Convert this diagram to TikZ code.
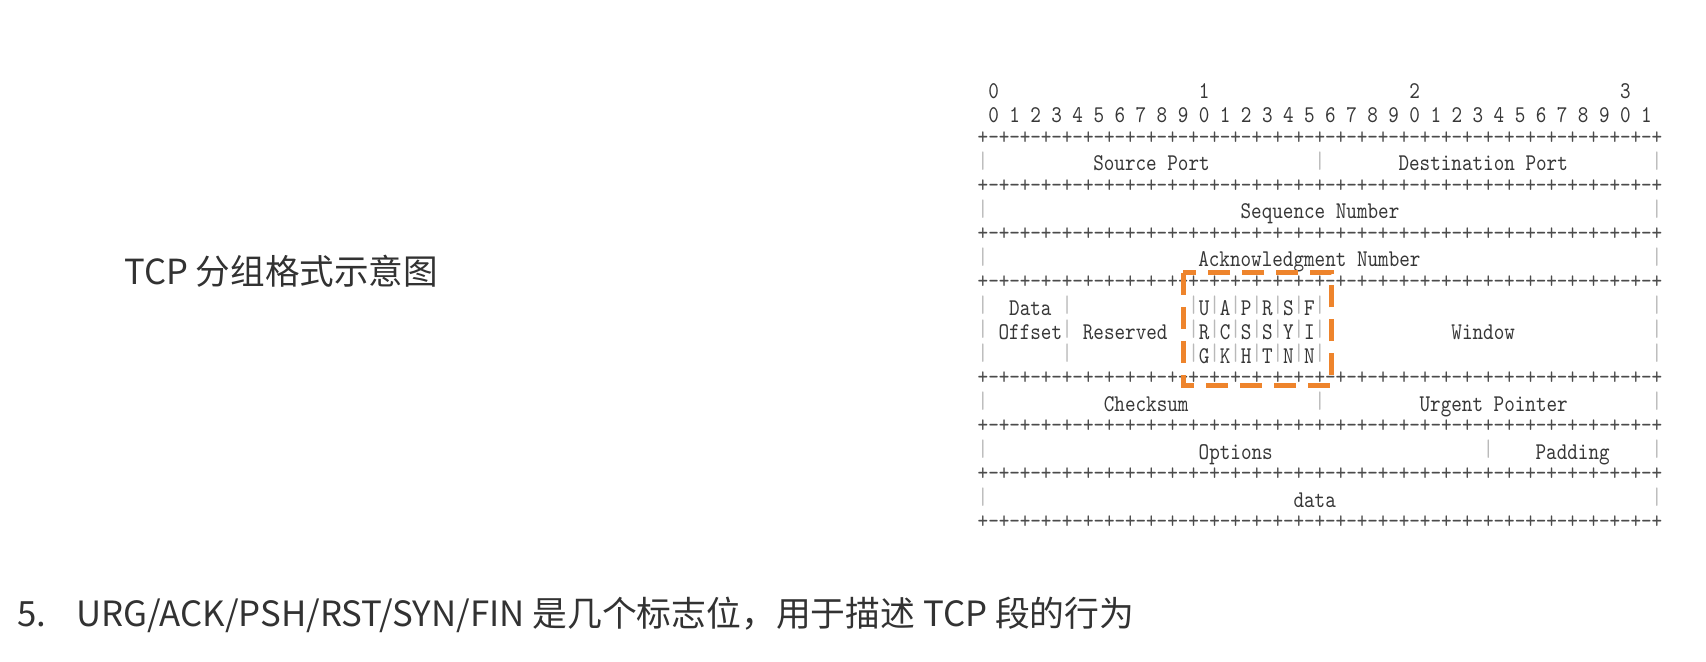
\documentclass[tikz,border=0pt]{standalone}
\usepackage{fontspec}
\newfontfamily\cjk{Noto Sans CJK SC}
\newfontfamily\asciifont[FakeStretch=0.84]{lmmono10-regular.otf}
\definecolor{titlegray}{RGB}{50, 50, 50}
\definecolor{asciigray}{RGB}{55, 55, 55}
\definecolor{rulegray}{RGB}{75, 75, 75}
\definecolor{pipegray}{RGB}{185, 185, 185}
\definecolor{boxorange}{RGB}{238, 132, 44}
\tikzstyle{asc} = [font=\asciifont\fontsize{12}{14}\selectfont, text=asciigray, inner sep=0pt, anchor=base]
\tikzstyle{rule} = [asc, text=rulegray]
\tikzstyle{pipe} = [asc, text=pipegray]
\tikzstyle{flagbox} = [draw=boxorange, line width=2.5pt, dash pattern=on 11pt off 6pt]
\tikzstyle{title} = [font=\cjk\fontsize{17.3}{20}\selectfont, text=titlegray, inner sep=0pt, anchor=base west]
\tikzstyle{note} = [font=\cjk\fontsize{17.4}{20}\selectfont, text=titlegray, inner sep=0pt, anchor=base west]

\begin{document}
\begin{tikzpicture}[x=0.5pt, y=-0.5pt]
    \useasboundingbox (0,0) rectangle (1706,662);

    % Title
    \node[title] (title) at (124,285) {TCP 分组格式示意图};

    % Header layout, one unit = one character cell
    \begin{scope}[shift={(983,89.9)}, x=5.265pt, y=-12.03pt]
        % Bit numbering
        \foreach \c/\t in {1/0, 21/1, 41/2, 61/3} {
            \node[asc] (tens\t) at (\c, 0.36) {\t};
        }
        \foreach \k in {0,...,31} {
            \pgfmathtruncatemacro{\dg}{mod(\k,10)}
            \node[asc] (bit\k) at ({1+2*\k}, 1.36) {\dg};
        }

        % Separator lines
        \foreach \r in {2,4,6,8,12,14,16,18} {
            \foreach \c in {0,2,...,64}
                \node[rule] (plus\r-\c) at (\c, \r+0.25) {+};
            \foreach \c in {1,3,...,63}
                \node[rule] (dash\r-\c) at (\c, \r+0.25) {-};
        }

        % Field borders
        \foreach \c/\r in {0/3, 32/3, 64/3, 0/5, 64/5, 0/7, 64/7, 0/13, 32/13, 64/13, 0/15, 48/15, 64/15, 0/17, 64/17} {
            \node[pipe] (bar\r-\c) at (\c, \r+0.25) {|};
        }
        \foreach \r in {9,10,11} {
            \foreach \c in {0,8,20,22,24,26,28,30,32,64}
                \node[pipe] (bar\r-\c) at (\c, \r+0.25) {|};
        }

        % Fields
        \node[asc] (srcport) at (16, 3.36) {Source Port};
        \node[asc] (dstport) at (47.5, 3.36) {Destination Port};
        \node[asc] (seqnum) at (32, 5.36) {Sequence Number};
        \node[asc] (acknum) at (31, 7.36) {Acknowledgment Number};
        \node[asc] (offset1) at (4.5, 9.36) {Data};
        \node[asc] (offset2) at (4.5, 10.36) {Offset};
        \node[asc] (reserved) at (13.5, 10.36) {Reserved};
        \node[asc] (window) at (47.5, 10.36) {Window};
        \node[asc] (checksum) at (15.5, 13.36) {Checksum};
        \node[asc] (urgptr) at (48.5, 13.36) {Urgent Pointer};
        \node[asc] (options) at (24, 15.36) {Options};
        \node[asc] (padding) at (56, 15.36) {Padding};
        \node[asc] (data) at (31.5, 17.36) {data};

        % Control flags
        \foreach \c/\a/\b/\g in {21/U/R/G, 23/A/C/K, 25/P/S/H, 27/R/S/T, 29/S/Y/N, 31/F/I/N} {
            \node[asc] (flag\c a) at (\c, 9.36) {\a};
            \node[asc] (flag\c b) at (\c, 10.36) {\b};
            \node[asc] (flag\c c) at (\c, 11.36) {\g};
        }

        % Highlight of the flags
        \draw[flagbox] (19, 7.6) rectangle (33.1, 12.3);
    \end{scope}

    % Note below
    \node[note] (num) at (17,626) {5.};
    \node[note] (flagnote) at (76,626) {URG/ACK/PSH/RST/SYN/FIN 是几个标志位，用于描述 TCP 段的行为};
\end{tikzpicture}
\end{document}
